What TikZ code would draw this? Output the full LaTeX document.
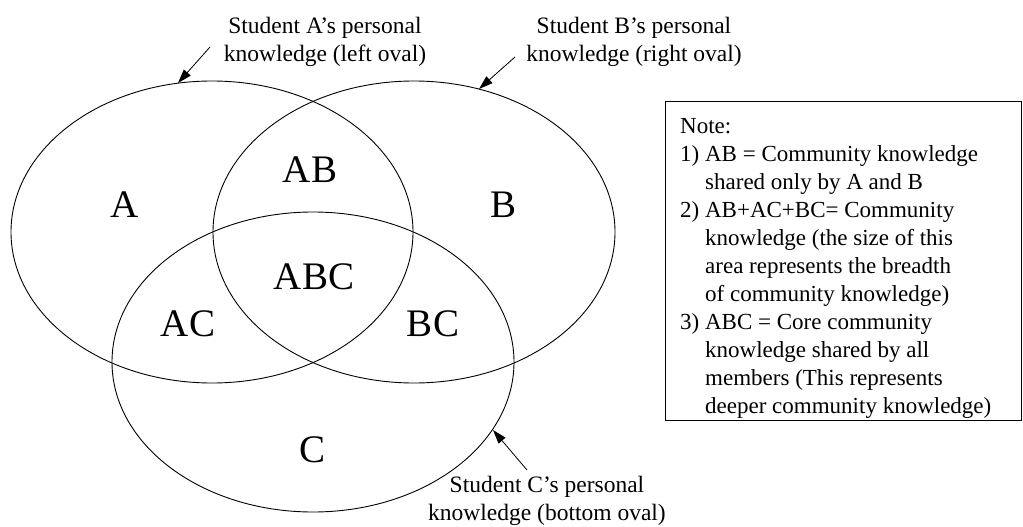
\documentclass[tikz,border=0pt]{standalone}
\usepackage{fontspec}
\setmainfont{Liberation Serif}
\usetikzlibrary{arrows.meta}
\newcommand\noteindent{\hspace*{25pt}}
\begin{document}
\begin{tikzpicture}[x=1pt,y=-1pt,
  oval/.style={line width=0.9pt},
  region/.style={font=\fontsize{39}{44}\selectfont, inner sep=0pt},
  anno/.style={font=\fontsize{23.5}{28}\selectfont, align=center, inner sep=0pt},
  pointer/.style={line width=0.8pt, -{Triangle[length=14pt,width=9pt]}},
  notebox/.style={draw, line width=0.9pt, minimum width=356pt, minimum height=319pt, inner sep=0pt, anchor=north west},
  notetext/.style={font=\fontsize{23}{28}\selectfont, align=left, inner sep=0pt, anchor=north west}
]
\useasboundingbox (0,0) rectangle (1023,527);

% ovals
\draw[oval] (212,232) ellipse [x radius=201pt, y radius=151pt];
\draw[oval] (414,232) ellipse [x radius=201pt, y radius=151pt];
\draw[oval] (313,362) ellipse [x radius=201pt, y radius=150pt];

% region labels
\node[region] (lA)   at (125,205) {A};
\node[region] (lB)   at (504,205) {B};
\node[region] (lAB)  at (310,170) {AB};
\node[region] (lABC) at (314,277) {ABC};
\node[region] (lAC)  at (188,324) {AC};
\node[region] (lBC)  at (433,324) {BC};
\node[region] (lC)   at (313,450) {C};

% annotations
\node[anno] (annA) at (325,42) {Student A’s personal\\knowledge (left oval)};
\node[anno] (annB) at (634,42) {Student B’s personal\\knowledge (right oval)};
\node[anno] (annC) at (547,501) {Student C’s personal\\knowledge (bottom oval)};

\coordinate (tailA) at (210,47);
\coordinate (tipA)  at (178,83);
\coordinate (tailB) at (515,57);
\coordinate (tipB)  at (479,89);
\coordinate (tailC) at (527,470);
\coordinate (tipC)  at (493,430);
\draw[pointer] (tailA) -- (tipA);
\draw[pointer] (tailB) -- (tipB);
\draw[pointer] (tailC) -- (tipC);

% note box
\node[notebox] (box) at (665,101) {};
\node[notetext] (note) at (680,118) {Note:\\
1) AB = Community knowledge\\
\noteindent shared only by A and B\\
2) AB+AC+BC= Community\\
\noteindent knowledge (the size of this\\
\noteindent area represents the breadth\\
\noteindent of community knowledge)\\
3) ABC = Core community\\
\noteindent knowledge shared by all\\
\noteindent members (This represents\\
\noteindent deeper community knowledge)};
\end{tikzpicture}
\end{document}
